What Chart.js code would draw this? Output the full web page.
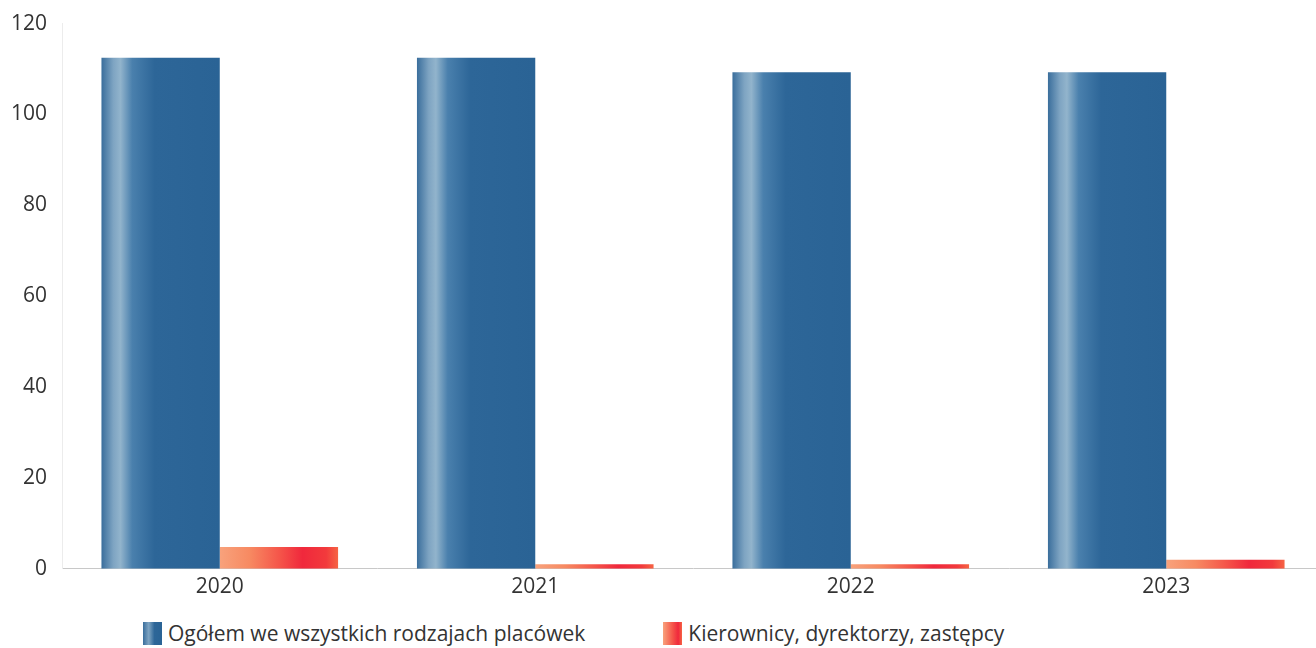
<!DOCTYPE html>
<html>
<head>
<meta charset="utf-8">
<script src="https://cdn.jsdelivr.net/npm/chart.js@4.4.1/dist/chart.umd.min.js"></script>
<style>
  html, body { margin: 0; padding: 0; background: #fff; overflow: hidden; }
  #wrap { position: relative; width: 1316px; height: 648px; overflow: hidden; }
  #chart-box { position: absolute; left: 0; top: -4px; width: 1324px; height: 610px; }
  #legend {
    position: absolute; left: 143px; top: 619px;
    display: flex; align-items: center;
    font-family: 'Open Sans', 'Noto Sans', sans-serif; font-size: 21px; color: #333;
  }
  #legend .item { display: flex; align-items: center; margin-right: 78px; }
  #legend .box { width: 19px; height: 23px; margin-right: 6px; }
</style>
</head>
<body>
<div id="wrap">
  <div id="chart-box"><canvas id="staffChart"></canvas></div>
  <div id="legend"></div>
</div>
<script>
  const years = ['2020', '2021', '2022', '2023'];
  const totalAll = [112.5, 112.5, 109.3, 109.3];
  const managers = [4.8, 1.0, 1.0, 2.0];
  const seriesNames = ['Ogółem we wszystkich rodzajach placówek', 'Kierownicy, dyrektorzy, zastępcy'];
  const yTicks = [0, 20, 40, 60, 80, 100, 120];

  const blueStops = [[0, '#3a6e9c'], [0.1, '#7ea4c2'], [0.16, '#92b4cc'], [0.26, '#4a80ad'], [0.45, '#2d6698'], [1, '#2a6395']];
  const redStops = [[0, '#f8a27c'], [0.25, '#f78a62'], [0.5, '#f5564a'], [0.7, '#f0283c'], [0.9, '#f23a3c'], [1, '#f66444']];
  const legendColors = [
    'linear-gradient(to right, #3a6e9c, #7ea4c2 30%, #2d6698 60%, #2a6395)',
    'linear-gradient(to right, #f8a27c, #f5564a 50%, #f0283c 80%, #f66444)'
  ];

  // paint each bar with a horizontal gradient across its own width
  const barGradient = {
    id: 'barGradient',
    beforeDatasetsDraw: function (chart) {
      const ctx = chart.ctx;
      chart.data.datasets.forEach(function (ds, di) {
        const stops = di === 0 ? blueStops : redStops;
        chart.getDatasetMeta(di).data.forEach(function (bar) {
          const left = bar.x - bar.width / 2;
          const g = ctx.createLinearGradient(left, 0, left + bar.width, 0);
          stops.forEach(function (s) { g.addColorStop(s[0], s[1]); });
          bar.options.backgroundColor = g;
        });
      });
    }
  };

  new Chart(document.getElementById('staffChart'), {
    type: 'bar',
    data: {
      labels: years,
      datasets: [
        // scriptable colours so every bar keeps its own options object
        { label: seriesNames[0], data: totalAll, backgroundColor: function () { return '#2d6698'; }, borderWidth: 0 },
        { label: seriesNames[1], data: managers, backgroundColor: function () { return '#f24a3e'; }, borderWidth: 0 }
      ]
    },
    options: {
      responsive: true,
      maintainAspectRatio: false,
      animation: false,
      layout: { padding: { top: 9, left: -4, right: 0, bottom: 0 } },
      datasets: { bar: { categoryPercentage: 0.75, barPercentage: 1 } },
      plugins: {
        legend: { display: false },
        tooltip: { enabled: false }
      },
      scales: {
        x: {
          grid: { display: false, drawTicks: false },
          border: { display: true, color: '#c8c8c8', width: 1 },
          ticks: { color: '#333', padding: 6, font: { family: 'Open Sans', size: 21 } }
        },
        y: {
          min: 0,
          max: 120,
          afterBuildTicks: function (axis) {
            axis.ticks = yTicks.map(function (v) { return { value: v }; });
          },
          grid: { display: false, drawTicks: false },
          border: { display: true, color: '#ececec', width: 1 },
          ticks: { color: '#333', padding: 15, font: { family: 'Open Sans', size: 21 } }
        }
      }
    },
    plugins: [barGradient]
  });

  const legendEl = document.getElementById('legend');
  seriesNames.forEach(function (name, i) {
    const item = document.createElement('div');
    item.className = 'item';
    const box = document.createElement('span');
    box.className = 'box';
    box.style.background = legendColors[i];
    const txt = document.createElement('span');
    txt.textContent = name;
    item.appendChild(box);
    item.appendChild(txt);
    legendEl.appendChild(item);
  });
</script>
</body>
</html>
